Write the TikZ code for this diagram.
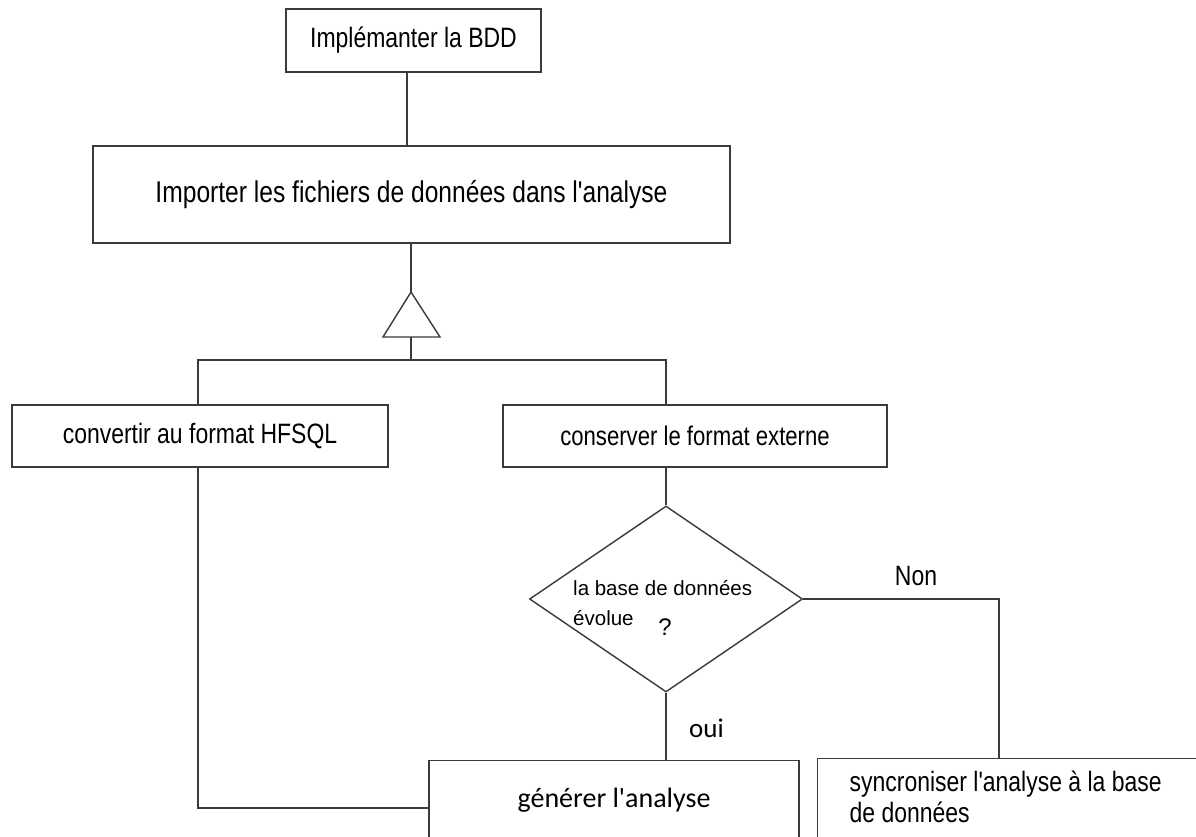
\documentclass[tikz,border=0pt]{standalone}
\usepackage{fontspec}
\setmainfont{Liberation Sans}
\newfontfamily\narrowfont[FakeStretch=0.82]{Liberation Sans}
\newfontfamily\calfont{Carlito}
\usetikzlibrary{shapes.geometric}
\definecolor{linegray}{HTML}{3A3A3A}
\begin{document}
\begin{tikzpicture}[x=1pt,y=-1pt,
  wire/.style={draw=linegray,line width=1.4pt},
  box/.style={rectangle,draw=linegray,line width=1.4pt,fill=white,inner sep=0pt,
    font=\narrowfont\fontsize{28}{31}\selectfont},
  lbl/.style={inner sep=0pt}]
\useasboundingbox (0,0) rectangle (1196,836);
\fill[white] (0,0) rectangle (1196,836);
\clip (0,0) rectangle (1196,836);

% boxes
\node[box,minimum width=255pt,minimum height=63pt] (b1) at (413.5,40.5) {Implémanter la BDD};
\node[box,minimum width=637pt,minimum height=97pt,
      font=\narrowfont\fontsize{30}{33}\selectfont] (b2) at (411.5,194.5)
      {Importer les fichiers de données dans l'analyse};
\node[box,minimum width=376pt,minimum height=62pt] (b3) at (200,436) {convertir au format HFSQL};
\node[box,minimum width=384pt,minimum height=62pt,
      font=\narrowfont\fontsize{27}{30}\selectfont] (b4) at (695,436) {conserver le format externe};
\node[box,anchor=north,minimum width=370pt,text height=47pt,text depth=40pt,
      font=\calfont\fontsize{28}{31}\selectfont] (b5) at (614,760) {générer l'analyse};
\node[box,anchor=north west,text width=336pt,inner xsep=32pt,inner ysep=0pt,align=flush left,
      text height=33pt,text depth=80pt] (b6) at (817,758)
      {syncroniser l'analyse à la base\\de données};

% decision
\node[diamond,draw=linegray,line width=1.4pt,minimum width=273pt,minimum height=186pt,
      inner sep=0pt] (dia) at (666,599) {};
\node[lbl,anchor=north west,align=flush left,font=\fontsize{20.5}{30}\selectfont] (dtxt) at (573,580)
      {la base de données\\évolue};
\node[lbl,anchor=base,font=\fontsize{24}{24}\selectfont] (qm) at (665,635) {?};

% specialisation triangle
\coordinate (tA) at (411,292);
\coordinate (tL) at (383,337);
\coordinate (tR) at (440,337);
\coordinate (tB) at (411,337);
\coordinate (barL) at (198,360);
\coordinate (barR) at (666,360);
\coordinate (j1) at (407,0);
\coordinate (nonX) at (999,599);
\coordinate (lk) at (198,808);

\draw[wire] (tL) -- (tA) -- (tR) -- cycle;

% connectors
\draw[wire] (b1.south -| j1) -- (b2.north -| j1);
\draw[wire] (b2.south -| tA) -- (tA);
\draw[wire] (tB) -- (tB |- barL);
\draw[wire] (b3.north -| barL) -- (barL) -- (barR) -- (b4.north -| barR);
\draw[wire] (b4.south -| barR) -- (dia.north);
\draw[wire] (dia.east) -- (nonX) -- (b6.north -| nonX);
\draw[wire] (dia.south) -- (b5.north -| dia.south);
\draw[wire] (b3.south -| lk) -- (lk) -- (lk -| b5.west);

% branch labels
\node[lbl,anchor=base,font=\narrowfont\fontsize{28}{31}\selectfont] (non) at (916,585) {Non};
\node[lbl,anchor=base west,font=\calfont\fontsize{27}{30}\selectfont] (oui) at (689,737) {oui};
\end{tikzpicture}
\end{document}
